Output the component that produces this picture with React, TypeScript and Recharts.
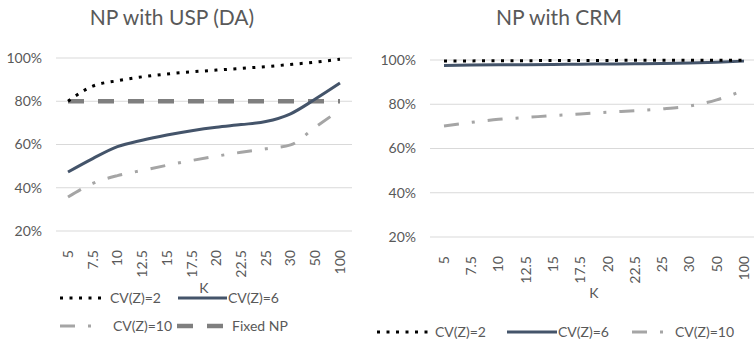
import { CartesianGrid, Line, LineChart, XAxis, YAxis } from "recharts";

const kValues = ["5", "7.5", "10", "12.5", "15", "17.5", "20", "22.5", "25", "30", "50", "100"];
const yTicks = [0.2, 0.4, 0.6, 0.8, 1.0];

// NP with USP (DA)
const uspCv2 = [0.8, 0.87, 0.895, 0.913, 0.926, 0.936, 0.944, 0.952, 0.96, 0.97, 0.981, 0.994];
const uspCv6 = [0.473, 0.535, 0.59, 0.62, 0.644, 0.664, 0.68, 0.692, 0.706, 0.742, 0.81, 0.884];
const uspCv10 = [0.357, 0.42, 0.456, 0.48, 0.504, 0.526, 0.546, 0.564, 0.58, 0.598, 0.68, 0.76];
const fixedNp = [0.8, 0.8, 0.8, 0.8, 0.8, 0.8, 0.8, 0.8, 0.8, 0.8, 0.8, 0.8];

// NP with CRM
const crmCv2 = [0.996, 0.996, 0.997, 0.997, 0.998, 0.998, 0.998, 0.999, 0.999, 0.999, 0.999, 0.999];
const crmCv6 = [0.975, 0.977, 0.978, 0.979, 0.98, 0.981, 0.982, 0.983, 0.984, 0.986, 0.99, 0.995];
const crmCv10 = [0.702, 0.718, 0.732, 0.74, 0.749, 0.756, 0.764, 0.771, 0.779, 0.792, 0.82, 0.863];

const FONT = "Lato, 'Open Sans', sans-serif";
const TEXT = "#595959";

const styles = {
  cv2: { stroke: "#000000", width: 3, dash: "3 6.5" },
  cv6: { stroke: "#44546A", width: 3, dash: undefined },
  cv10: { stroke: "#A5A5A5", width: 3, dash: "15 13 3 13" },
  fixed: { stroke: "#7F7F7F", width: 4.5, dash: "16 14" },
} as const;

type Key = keyof typeof styles;

const uspData = kValues.map((k, i) => ({
  k,
  cv2: uspCv2[i],
  cv6: uspCv6[i],
  cv10: uspCv10[i],
  fixed: fixedNp[i],
}));

const crmData = kValues.map((k, i) => ({
  k,
  cv2: crmCv2[i],
  cv6: crmCv6[i],
  cv10: crmCv10[i],
}));

function RotatedTick({ x, y, payload }: any) {
  return (
    <text
      x={x}
      y={y + 11}
      transform={`rotate(-90, ${x}, ${y + 11})`}
      textAnchor="end"
      dy="0.35em"
      fill={TEXT}
      fontSize={14}
      fontFamily={FONT}
    >
      {payload.value}
    </text>
  );
}

const pct = (v: number) => `${Math.round(v * 100)}%`;

function Swatch({ k, w }: { k: Key; w: number }) {
  const s = styles[k];
  return (
    <svg width={w} height={10} style={{ display: "block" }}>
      <line
        x1={0}
        y1={5}
        x2={w}
        y2={5}
        stroke={s.stroke}
        strokeWidth={s.width}
        strokeDasharray={s.dash}
      />
    </svg>
  );
}

function LegendItem({
  k,
  label,
  left,
  top,
  w,
  gap = 4,
}: {
  k: Key;
  label: string;
  left: number;
  top: number;
  w: number;
  gap?: number;
}) {
  return (
    <div
      style={{
        position: "absolute",
        left,
        top,
        display: "flex",
        alignItems: "center",
        gap,
        fontFamily: FONT,
        fontSize: 14,
        color: TEXT,
        whiteSpace: "nowrap",
      }}
    >
      <Swatch k={k} w={w} />
      <span>{label}</span>
    </div>
  );
}

function Panel({
  title,
  data,
  keys,
  width,
  margin,
  xHeight,
  xPad,
  titleX,
}: {
  title: string;
  data: any[];
  keys: Key[];
  width: number;
  margin: { top: number; right: number; bottom: number; left: number };
  xHeight: number;
  xPad: number;
  titleX: number;
}) {
  return (
    <LineChart width={width} height={342} data={data} margin={margin}>
      <text
        x={titleX}
        y={25}
        textAnchor="middle"
        fill={TEXT}
        fontSize={21}
        fontFamily={FONT}
      >
        {title}
      </text>
      <CartesianGrid vertical={false} stroke="#D9D9D9" />
      <XAxis
        dataKey="k"
        axisLine={false}
        tickLine={false}
        interval={0}
        height={xHeight}
        padding={{ left: xPad, right: xPad }}
        tick={<RotatedTick />}
        label={{
          value: "K",
          position: "insideBottom",
          offset: 0,
          fill: TEXT,
          fontSize: 14,
          fontFamily: FONT,
        }}
      />
      <YAxis
        domain={[0.2, 1]}
        ticks={yTicks}
        tickFormatter={pct}
        axisLine={false}
        tickLine={false}
        tickSize={0}
        tickMargin={14}
        width={50}
        tick={{ fill: TEXT, fontSize: 14, fontFamily: FONT }}
      />
      {keys.map((key) => (
        <Line
          key={key}
          dataKey={key}
          type="monotone"
          stroke={styles[key].stroke}
          strokeWidth={styles[key].width}
          strokeDasharray={styles[key].dash}
          dot={false}
          activeDot={false}
          isAnimationActive={false}
        />
      ))}
    </LineChart>
  );
}

export default function App() {
  return (
    <div
      style={{
        position: "absolute",
        left: 0,
        top: 0,
        width: 754,
        height: 342,
        overflow: "hidden",
        background: "#fff",
      }}
    >
      <div style={{ position: "absolute", left: 0, top: 0 }}>
        <Panel
          title="NP with USP (DA)"
          data={uspData}
          keys={["fixed", "cv10", "cv6", "cv2"]}
          width={377}
          margin={{ top: 58, right: 25, bottom: 49, left: 6 }}
          xHeight={62}
          xPad={12}
          titleX={172}
        />
      </div>
      <div style={{ position: "absolute", left: 377, top: 0 }}>
        <Panel
          title="NP with CRM"
          data={crmData}
          keys={["cv10", "cv6", "cv2"]}
          width={381}
          margin={{ top: 60, right: 0, bottom: 44, left: 3 }}
          xHeight={61}
          xPad={14}
          titleX={182}
        />
      </div>

      <LegendItem k="cv2" label="CV(Z)=2" left={60} top={289} w={47} gap={3} />
      <LegendItem k="cv6" label="CV(Z)=6" left={178} top={289} w={49} gap={1} />
      <LegendItem k="cv10" label="CV(Z)=10" left={60} top={317} w={36} gap={17} />
      <LegendItem k="fixed" label="Fixed NP" left={177} top={317} w={50} gap={5} />

      <LegendItem k="cv2" label="CV(Z)=2" left={377} top={323} w={52} gap={6} />
      <LegendItem k="cv6" label="CV(Z)=6" left={507} top={323} w={50} gap={1} />
      <LegendItem k="cv10" label="CV(Z)=10" left={632} top={323} w={33} gap={10} />
    </div>
  );
}
